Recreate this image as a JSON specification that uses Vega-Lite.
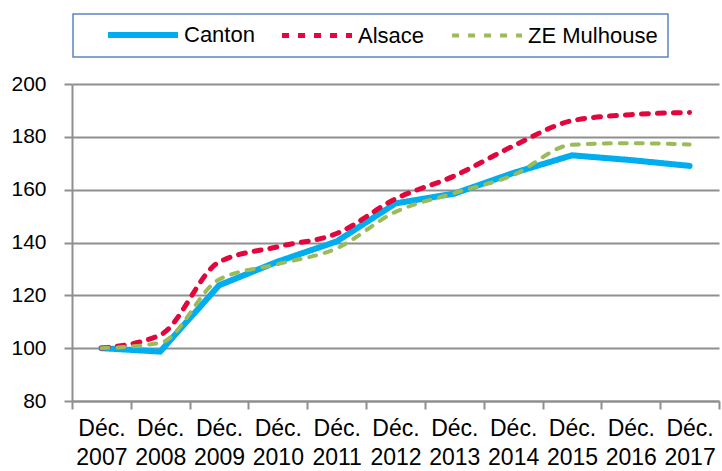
{
  "$schema": "https://vega.github.io/schema/vega-lite/v6.json",
  "width": 647,
  "height": 317,
  "autosize": {"type": "none"},
  "padding": {"left": 72, "top": 84, "right": 3, "bottom": 70},
  "background": "white",
  "config": {
    "view": {"stroke": null},
    "font": "Liberation Sans",
    "legend": {
      "orient": "none",
      "legendX": 1,
      "legendY": -70,
      "direction": "horizontal",
      "strokeColor": "#5b87c5",
      "strokeWidth": 1.5,
      "padding": 10,
      "symbolType": "M-5,0H5",
      "symbolSize": 196,
      "symbolOffset": 49,
      "labelOffset": 30,
      "columnPadding": 2,
      "labelFontSize": 22,
      "labelColor": "black",
      "labelFont": "Liberation Sans",
      "labelLimit": 300
    }
  },
  "data": {
    "values": [
      {"periode": "Déc. 2007", "serie": "Canton", "valeur": 100},
      {"periode": "Déc. 2008", "serie": "Canton", "valeur": 98.7},
      {"periode": "Déc. 2009", "serie": "Canton", "valeur": 123.8},
      {"periode": "Déc. 2010", "serie": "Canton", "valeur": 132.8},
      {"periode": "Déc. 2011", "serie": "Canton", "valeur": 140.4},
      {"periode": "Déc. 2012", "serie": "Canton", "valeur": 154.8},
      {"periode": "Déc. 2013", "serie": "Canton", "valeur": 158.5},
      {"periode": "Déc. 2014", "serie": "Canton", "valeur": 166.3},
      {"periode": "Déc. 2015", "serie": "Canton", "valeur": 173.0},
      {"periode": "Déc. 2016", "serie": "Canton", "valeur": 171.2},
      {"periode": "Déc. 2017", "serie": "Canton", "valeur": 169.0},
      {"periode": "Déc. 2007", "serie": "Alsace", "valeur": 100},
      {"periode": "Déc. 2008", "serie": "Alsace", "valeur": 105},
      {"periode": "Déc. 2009", "serie": "Alsace", "valeur": 132.6},
      {"periode": "Déc. 2010", "serie": "Alsace", "valeur": 138.4},
      {"periode": "Déc. 2011", "serie": "Alsace", "valeur": 143.4},
      {"periode": "Déc. 2012", "serie": "Alsace", "valeur": 156.5},
      {"periode": "Déc. 2013", "serie": "Alsace", "valeur": 165.2},
      {"periode": "Déc. 2014", "serie": "Alsace", "valeur": 176.5},
      {"periode": "Déc. 2015", "serie": "Alsace", "valeur": 186.1},
      {"periode": "Déc. 2016", "serie": "Alsace", "valeur": 188.4},
      {"periode": "Déc. 2017", "serie": "Alsace", "valeur": 189.2},
      {"periode": "Déc. 2007", "serie": "ZE Mulhouse", "valeur": 100},
      {"periode": "Déc. 2008", "serie": "ZE Mulhouse", "valeur": 102},
      {"periode": "Déc. 2009", "serie": "ZE Mulhouse", "valeur": 126},
      {"periode": "Déc. 2010", "serie": "ZE Mulhouse", "valeur": 131.8},
      {"periode": "Déc. 2011", "serie": "ZE Mulhouse", "valeur": 137.8},
      {"periode": "Déc. 2012", "serie": "ZE Mulhouse", "valeur": 151.6},
      {"periode": "Déc. 2013", "serie": "ZE Mulhouse", "valeur": 158.7},
      {"periode": "Déc. 2014", "serie": "ZE Mulhouse", "valeur": 165.5},
      {"periode": "Déc. 2015", "serie": "ZE Mulhouse", "valeur": 177.0},
      {"periode": "Déc. 2016", "serie": "ZE Mulhouse", "valeur": 177.6},
      {"periode": "Déc. 2017", "serie": "ZE Mulhouse", "valeur": 177.1}
    ]
  },
  "encoding": {
    "x": {
      "field": "periode",
      "type": "ordinal",
      "sort": null,
      "bandPosition": 0.5,
      "scale": {"type": "band", "paddingInner": 0, "paddingOuter": 0},
      "axis": {
        "title": null,
        "labelAngle": 0,
        "labelExpr": "split(datum.label, ' ')",
        "tickBand": "extent",
        "tickSize": 8,
        "tickColor": "#8f8f8f",
        "tickWidth": 2,
        "domainColor": "#8f8f8f",
        "domainWidth": 2,
        "labelFontSize": 23,
        "labelColor": "black",
        "labelPadding": 8,
        "labelLineHeight": 29,
        "grid": false
      }
    },
    "y": {
      "field": "valeur",
      "type": "quantitative",
      "scale": {"domain": [80, 200], "nice": false, "zero": false},
      "axis": {
        "title": null,
        "values": [80, 100, 120, 140, 160, 180, 200],
        "grid": true,
        "gridColor": "#8f8f8f",
        "gridWidth": 2,
        "domainColor": "#8f8f8f",
        "domainWidth": 2,
        "tickColor": "#8f8f8f",
        "tickWidth": 2,
        "tickSize": 8,
        "labelPadding": 18,
        "labelFontSize": 21,
        "labelColor": "black"
      }
    },
    "color": {
      "field": "serie",
      "type": "nominal",
      "scale": {"domain": ["Canton", "Alsace", "ZE Mulhouse"], "range": ["#00AEEF", "#E2063D", "#9BBB59"]},
      "legend": {"title": null}
    },
    "strokeDash": {
      "field": "serie",
      "type": "nominal",
      "scale": {"domain": ["Canton", "Alsace", "ZE Mulhouse"], "range": [[1, 0], [7, 9], [7, 9]]},
      "legend": {"title": null}
    },
    "strokeWidth": {
      "field": "serie",
      "type": "nominal",
      "scale": {"domain": ["Canton", "Alsace", "ZE Mulhouse"], "range": [6, 4, 4]},
      "legend": {"title": null}
    }
  },
  "layer": [
    {
      "transform": [{"filter": "datum.serie === 'Canton'"}],
      "mark": {"type": "line", "strokeCap": "round", "strokeJoin": "round"}
    },
    {
      "transform": [{"filter": "datum.serie !== 'Canton'"}],
      "mark": {"type": "line", "interpolate": "monotone", "strokeCap": "round", "strokeJoin": "round"}
    }
  ]
}
